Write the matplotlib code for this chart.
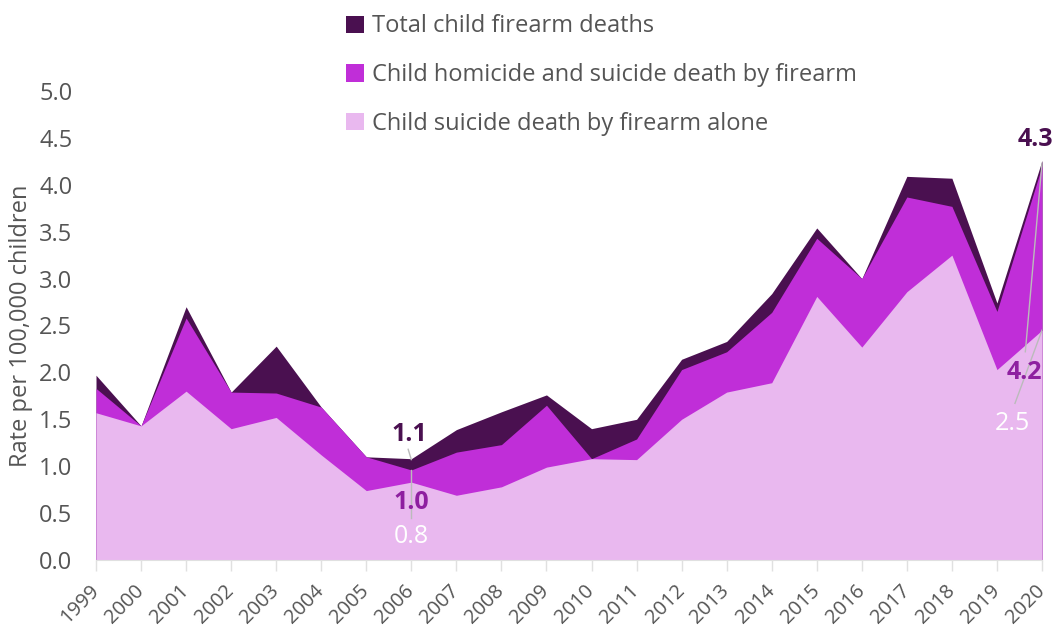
import matplotlib
matplotlib.use("Agg")
import matplotlib.pyplot as plt
from matplotlib.patches import Patch

years = list(range(1999, 2021))
total = [1.97, 1.43, 2.70, 1.79, 2.28, 1.63, 1.10, 1.08, 1.39, 1.58, 1.76, 1.40, 1.50,
         2.14, 2.33, 2.84, 3.54, 3.00, 4.09, 4.07, 2.74, 4.26]
hom_sui = [1.83, 1.43, 2.58, 1.79, 1.78, 1.63, 1.10, 0.96, 1.15, 1.23, 1.65, 1.08, 1.29,
           2.03, 2.22, 2.64, 3.43, 3.00, 3.87, 3.77, 2.65, 4.20]
suicide = [1.57, 1.43, 1.80, 1.40, 1.52, 1.12, 0.74, 0.83, 0.69, 0.78, 0.99, 1.08, 1.07,
           1.50, 1.79, 1.89, 2.81, 2.27, 2.86, 3.25, 2.03, 2.45]
series_names = ["Total child firearm deaths",
                "Child homicide and suicide death by firearm",
                "Child suicide death by firearm alone"]

c_dark = "#4a1050"
c_mid = "#c02ed8"
c_light = "#e9b8ef"
c_text = "#555555"
c_lab_mid = "#8e1fa0"

plt.rcParams['font.family'] = ['Open Sans', 'DejaVu Sans']

fig = plt.figure(figsize=(10.53, 6.27), dpi=100)
ax = fig.add_axes([96/1053, 67/627, (1042-96)/1053, (560-91)/627])

ax.fill_between(years, 0, total, color=c_dark, linewidth=0)
ax.fill_between(years, 0, hom_sui, color=c_mid, linewidth=0)
ax.fill_between(years, 0, suicide, color=c_light, linewidth=0)

ax.set_xlim(years[0], years[-1])
ax.set_ylim(0, 5)
ax.set_yticks([i * 0.5 for i in range(11)])
ax.set_yticklabels([f"{i*0.5:.1f}" for i in range(11)], fontsize=17, color=c_text)
ax.set_xticks(years)
ax.set_xticklabels([str(y) for y in years], rotation=45, ha='right', va='center',
                   rotation_mode='anchor', fontsize=14.5, color=c_text)
ax.tick_params(axis='y', length=0, pad=17)
ax.tick_params(axis='x', length=8, color="#e0e0e0", width=1, pad=12)
for s in ['top', 'right', 'left']:
    ax.spines[s].set_visible(False)
ax.spines['bottom'].set_color("#e0e0e0")
ax.set_ylabel("Rate per 100,000 children", fontsize=17, color=c_text, labelpad=4)

# Data labels 2006
i6 = years.index(2006)
ax.plot([2005.93, 2006], [total[i6] + 0.1, total[i6] - 0.01], color="#bbbbbb", lw=1)
ax.text(2005.95, total[i6] + 0.13, f"{total[i6]:.1f}", color=c_dark, fontsize=18,
        fontweight='bold', ha='center', va='bottom')
ax.plot([2006, 2006], [hom_sui[i6], 0.45], color="#bbbbbb", lw=1)
ax.text(2006.0, 0.61, "1.0", color=c_lab_mid, fontsize=18, fontweight='bold',
        ha='center', va='center')
ax.text(2006.0, 0.25, f"{suicide[i6]:.1f}", color="white", fontsize=18, ha='center', va='center')

# Data labels 2020
i20 = years.index(2020)
ax.text(2019.86, total[i20] + 0.22, "4.3", color=c_dark, fontsize=18, fontweight='bold',
        ha='center', va='center')
ax.plot([2020, 2019.63], [hom_sui[i20] + 0.03, 2.22], color="#bbbbbb", lw=1)
ax.text(2019.6, 2.0, "4.2", color=c_lab_mid, fontsize=18, fontweight='bold',
        ha='center', va='center')
ax.plot([2020, 2019.4], [suicide[i20], 1.67], color="#bbbbbb", lw=1)
ax.text(2019.35, 1.45, f"{suicide[i20]:.1f}", color="white", fontsize=18, ha='center', va='center')

handles = [Patch(facecolor=c, edgecolor='none') for c in (c_dark, c_mid, c_light)]
leg = fig.legend(handles, series_names, loc='upper left',
                 bbox_to_anchor=(337/1053, 1 - 5/627), frameon=False, fontsize=17,
                 handlelength=0.75, handleheight=0.75, handletextpad=0.35,
                 labelspacing=1.05, borderaxespad=0)
for t in leg.get_texts():
    t.set_color(c_text)

fig.savefig("out.png", dpi=100)
